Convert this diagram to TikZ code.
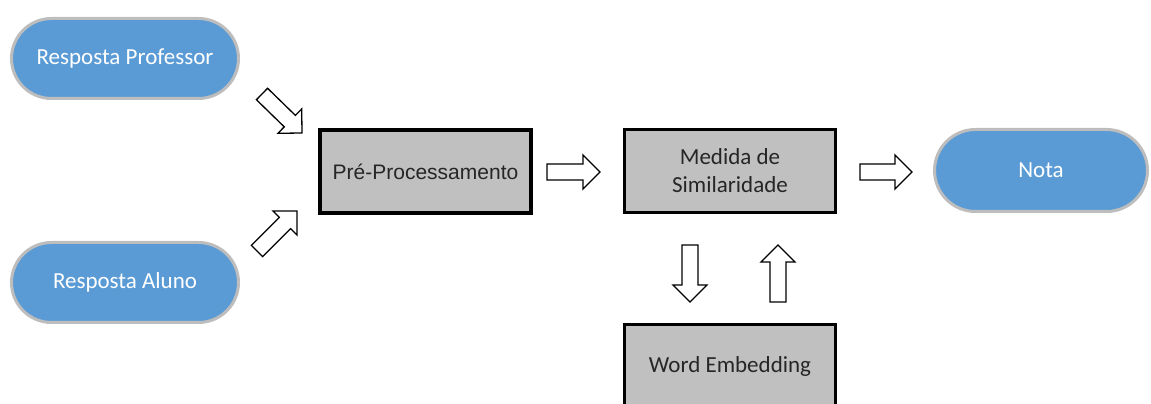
\documentclass[tikz,border=0pt]{standalone}
\usepackage{fontspec}
\setmainfont{Carlito}
\newfontfamily\arialfont{Liberation Sans}
\usetikzlibrary{calc}

\definecolor{pillblue}{HTML}{5B9BD5}
\definecolor{pillline}{HTML}{BDBDBD}
\definecolor{boxgray}{HTML}{C0C0C0}
\definecolor{boxtext}{HTML}{262626}

\tikzset{
  pill/.style={draw=pillline,line width=3pt,fill=pillblue,rounded corners=40pt,
    minimum width=227pt,minimum height=80pt,text=white,font=\fontsize{23}{28}\selectfont},
  graybox/.style={draw=black,line width=3.5pt,fill=boxgray,minimum width=211pt,
    minimum height=83pt,align=center,text=boxtext,font=\fontsize{23}{28}\selectfont},
  hollowarrow/.style={draw=black,line width=1.3pt,fill=white,line join=miter}
}

% hollow block arrow from #1 to #2
\newcommand{\blockarrow}[2]{%
  \coordinate (ba-n) at ($(#2)!17pt!(#1)$);
  \draw[hollowarrow] ($(#1)!8pt!90:(#2)$) -- ($(ba-n)!8pt!90:(#2)$)
    -- ($(ba-n)!17pt!90:(#2)$) -- (#2) -- ($(ba-n)!17pt!-90:(#2)$)
    -- ($(ba-n)!8pt!-90:(#2)$) -- ($(#1)!8pt!-90:(#2)$) -- cycle;
}

\begin{document}
\begin{tikzpicture}[x=1pt,y=1pt]
  \useasboundingbox (0,0) rectangle (1151,404);
  \node[pill] (prof) at (125,345.5) {Resposta Professor};
  \node[pill] (aluno) at (125,121.5) {Resposta Aluno};
  \node[graybox,font=\arialfont\fontsize{21}{25}\selectfont] (pre) at (425.5,232.5) {Pré-Processamento};
  \node[graybox] (med) at (730,233) {Medida de\\Similaridade};
  \node[pill,minimum width=213pt,minimum height=82pt,rounded corners=41pt] (nota) at (1041,233.5) {Nota};
  \node[graybox] (word) at (730,38) {Word Embedding};
  % arrow ends
  \coordinate (a1s) at (262,310);
  \coordinate (a1e) at (302,271);
  \coordinate (a2s) at (257,153);
  \coordinate (a2e) at (297,193);
  \coordinate (a3s) at (547,232);
  \coordinate (a3e) at (600,232);
  \coordinate (a4s) at (860,232);
  \coordinate (a4e) at (912,232);
  \coordinate (a5s) at (690,159);
  \coordinate (a5e) at (690,102);
  \coordinate (a6s) at (778,102);
  \coordinate (a6e) at (778,159);
  \blockarrow{a1s}{a1e}
  \blockarrow{a2s}{a2e}
  \blockarrow{a3s}{a3e}
  \blockarrow{a4s}{a4e}
  \blockarrow{a5s}{a5e}
  \blockarrow{a6s}{a6e}
\end{tikzpicture}
\end{document}
